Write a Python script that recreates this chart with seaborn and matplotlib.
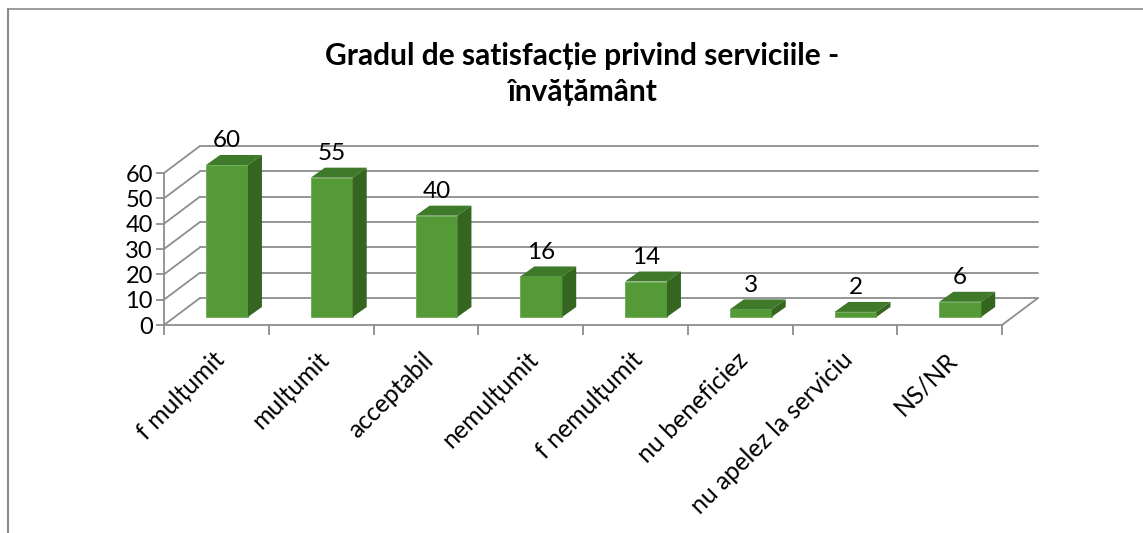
import pandas as pd
import matplotlib
matplotlib.use('Agg')
import matplotlib.pyplot as plt
from matplotlib.lines import Line2D
import seaborn as sns

# Data
categories = ['f mulțumit', 'mulțumit', 'acceptabil', 'nemulțumit', 'f nemulțumit',
              'nu beneficiez', 'nu apelez la serviciu', 'NS/NR']
values = [60, 55, 40, 16, 14, 3, 2, 6]
y_ticks = [0, 10, 20, 30, 40, 50, 60]
title = 'Gradul de satisfacție privind serviciile -\nînvățământ'

df = pd.DataFrame({'category': categories, 'value': values})

W, H = 1143, 533
sns.set_theme(style='white')
plt.rcParams['font.family'] = ['Lato', 'Open Sans', 'DejaVu Sans']

fig = plt.figure(figsize=(W / 100, H / 100), dpi=100, facecolor='white')
ax = fig.add_axes([164 / W, (H - 325) / H, 838 / W, 152 / H])

FRONT = '#549B38'
TOP = '#3F7A2A'
SIDE = '#35661F'
GRID = '#8E8E8E'

sns.barplot(data=df, x='category', y='value', color=FRONT, saturation=1, width=0.40,
            ax=ax, zorder=3, edgecolor='#74AE5E', linewidth=0.7)

# 3D look: everything offset from the bar plane, in data units
x0, x1 = -0.6014, 7.3986
y_front = -3.16
wall_dx, wall_dy = 0.3437, 10.66
bar_dx, bar_dy = 0.1337, 3.95

ax.set_xlim(x0, x1)
ax.set_ylim(y_front, y_front + 60)

# back wall grid and left wall diagonals
for v in y_ticks:
    yb = v + y_front + wall_dy
    ax.plot([x0 + wall_dx, x1 + wall_dx], [yb, yb], color=GRID, lw=1.3, clip_on=False, zorder=1)
    ax.plot([x0, x0 + wall_dx], [v + y_front, yb], color=GRID, lw=1.3, clip_on=False, zorder=1)
# right edge of the floor
ax.plot([x1, x1 + wall_dx], [y_front, y_front + wall_dy], color=GRID, lw=1.3, clip_on=False, zorder=1)

for bar in ax.patches[:len(values)]:
    bar.set_clip_on(False)
    left, w, h = bar.get_x(), bar.get_width(), bar.get_height()
    right = left + w
    ax.fill([left, right, right + bar_dx, left + bar_dx], [h, h, h + bar_dy, h + bar_dy],
            color=TOP, lw=0, clip_on=False, zorder=3)
    ax.fill([right, right + bar_dx, right + bar_dx, right], [0, bar_dy, h + bar_dy, h],
            color=SIDE, lw=0, clip_on=False, zorder=3)

bar_texts = ax.bar_label(ax.containers[0], labels=[str(v) for v in values], padding=10, fontsize=17.5,
                         color='black', zorder=5)
for t in bar_texts:
    t.set_annotation_clip(False)

# axis: front plane
sns.despine(ax=ax, top=True, right=True)
for side in ['left', 'bottom']:
    ax.spines[side].set_color(GRID)
    ax.spines[side].set_linewidth(1.3)
ax.set_xlabel('')
ax.set_ylabel('')
ax.set_xticks([x0 + k for k in range(9)], minor=True)
ax.set_xticks([x0 + 0.46 + k for k in range(8)])
ax.set_xticklabels(categories, rotation=45, ha='right', rotation_mode='anchor', fontsize=17.8, color='black')
ax.set_yticks([v + y_front for v in y_ticks])
ax.set_yticklabels([str(v) for v in y_ticks], fontsize=17, color='black')
ax.tick_params(axis='x', which='major', length=0, pad=16.5)
ax.tick_params(axis='x', which='minor', length=7, width=1.3, color=GRID, bottom=True)
ax.tick_params(axis='y', length=6, width=1.3, color=GRID, left=True, pad=2)

fig.suptitle(title, x=582.5 / W, y=1 - 42 / H, va='top', ha='center', fontsize=21.5,
             fontweight='bold', color='black', linespacing=1.36)

# chart frame, only left and top are in the crop
fig.add_artist(Line2D([7.5 / W, 7.5 / W], [0, 1 - 8.5 / H], color='#8A8A8A', lw=1.5))
fig.add_artist(Line2D([7.5 / W, 1], [1 - 8.5 / H, 1 - 8.5 / H], color='#8A8A8A', lw=1.2))

fig.savefig('out.png', dpi=100, facecolor='white')
